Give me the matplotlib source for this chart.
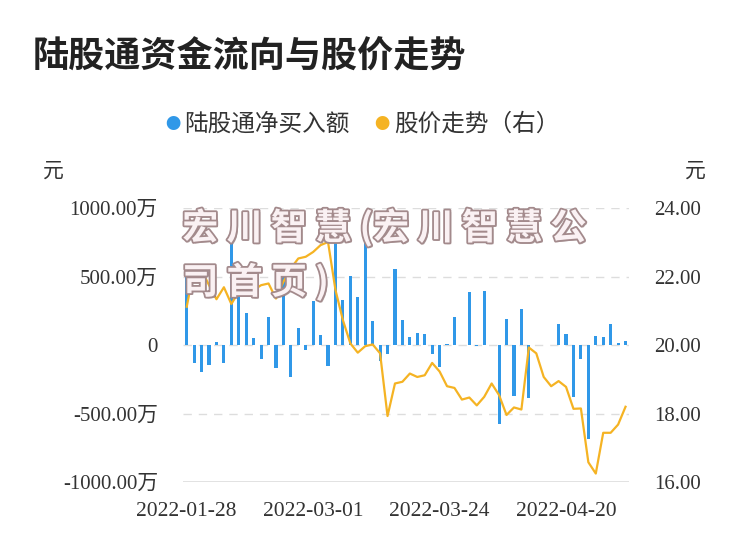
import matplotlib
matplotlib.use("Agg")
import matplotlib.pyplot as plt
import matplotlib.patheffects as pe
import numpy as np
import pandas as pd

plt.rcParams["font.family"] = ["Noto Sans CJK SC", "DejaVu Sans"]

# trading days 2022-01-28 .. 2022-05-05 (holidays removed)
holidays = ["2022-01-31", "2022-02-01", "2022-02-02", "2022-02-03", "2022-02-04",
            "2022-04-04", "2022-04-05", "2022-05-02", "2022-05-03", "2022-05-04"]
days = pd.bdate_range("2022-01-28", "2022-05-05")
days = [d.strftime("%Y-%m-%d") for d in days if d.strftime("%Y-%m-%d") not in holidays]

# 陆股通净买入额, 万元
net_buy = [550, -134, -195, -146, 24, -134, 775, 480, 231, 49,
           -102, 207, -170, 570, -231, 122, -36, 325, 73, -151,
           820, 333, 504, 348, 785, 175, -115, -68, 557, 182,
           61, 90, 78, -66, -158, 8, 202, 3, 389, -5,
           396, 2, -579, 188, -372, 265, -389, 0, 0, 0,
           151, 83, -377, -102, -683, 68, 58, 151, 17, 31]

# 股价, 元
price = [21.12, 22.24, 22.19, 21.75, 21.34, 21.69, 21.20, 21.56, 21.46, 21.61,
         21.75, 21.80, 21.36, 21.85, 22.24, 22.53, 22.58, 22.72, 22.92, 23.01,
         21.61, 20.73, 20.05, 19.78, 19.97, 20.02, 19.76, 17.93, 18.88, 18.93,
         19.17, 19.07, 19.12, 19.48, 19.23, 18.80, 18.75, 18.41, 18.47, 18.24,
         18.49, 18.88, 18.54, 17.96, 18.18, 18.12, 19.93, 19.76, 19.07, 18.80,
         18.95, 18.78, 18.14, 18.15, 16.58, 16.25, 17.44, 17.44, 17.68, 18.20]

left_ticks = [-1000, -500, 0, 500, 1000]
left_labels = ["-1000.00万", "-500.00万", "0", "500.00万", "1000.00万"]
right_ticks = [16, 18, 20, 22, 24]
tick_dates = ["2022-01-28", "2022-03-01", "2022-03-24", "2022-04-20"]

blue = "#3098e8"
orange = "#f5b323"
num_font = ["Liberation Serif", "Noto Sans CJK SC"]

fig = plt.figure(figsize=(7.5, 5.58), dpi=100)
ax = fig.add_axes([0.244, 0.136, 0.595, 0.491])
ax2 = ax.twinx()

x = np.arange(len(days))
ax.bar(x, net_buy, width=0.42, color=blue, zorder=3)
ax2.plot(x, price, color=orange, lw=1.6, zorder=4)

ax.set_xlim(-0.5, len(days) - 0.5)
ax.set_ylim(-1000, 1000)
ax2.set_ylim(16, 24)

ax.set_yticks(left_ticks)
ax.set_yticklabels(left_labels, family=num_font, fontsize=15, color="#333333")
ax2.set_yticks(right_ticks)
ax2.set_yticklabels([f"{v:.2f}" for v in right_ticks], family=num_font,
                    fontsize=15, color="#333333")
ax.set_xticks([days.index(d) for d in tick_dates])
ax.set_xticklabels(tick_dates, family=num_font, fontsize=15.5, color="#333333")

ax.tick_params(axis="both", length=0)
ax.tick_params(axis="y", pad=18)
ax.tick_params(axis="x", pad=14)
ax2.tick_params(axis="y", length=0, pad=18)

for t in [-500, 0, 500, 1000]:
    ax.axhline(t, color="#dddddd", lw=1, ls=(0, (6, 5)), zorder=1)
ax.axhline(-1000, color="#dddddd", lw=1.2, zorder=1)

for a in (ax, ax2):
    for s in a.spines.values():
        s.set_visible(False)

fig.text(0.044, 0.897, "陆股通资金流向与股价走势", fontsize=26, fontweight="bold",
         color="#222222", va="center")

# legend
fig.text(0.231, 0.777, "●", color=blue, fontsize=11, va="center", ha="center")
fig.text(0.246, 0.777, "陆股通净买入额", fontsize=17, color="#333333", va="center")
fig.text(0.509, 0.777, "●", color=orange, fontsize=11, va="center", ha="center")
fig.text(0.526, 0.777, "股价走势（右）", fontsize=17, color="#333333", va="center")

fig.text(0.071, 0.695, "元", fontsize=15, color="#333333", ha="center", va="center")
fig.text(0.927, 0.695, "元", fontsize=15, color="#333333", ha="center", va="center")

# watermark
wm_effects = [pe.withSimplePatchShadow(offset=(1.2, -1.2), shadow_rgbFace="#6b5050", alpha=0.5),
              pe.withStroke(linewidth=2.6, foreground="#a38a8c")]
fig.text(0.243, 0.591, "宏 川 智 慧 (宏 川 智 慧 公", fontsize=26, fontweight="bold",
         color="#faf1f3", va="center", path_effects=wm_effects, zorder=10)
fig.text(0.243, 0.494, "司 首 页 )", fontsize=26, fontweight="bold",
         color="#faf1f3", va="center", path_effects=wm_effects, zorder=10)

fig.savefig("out.png", dpi=100)
